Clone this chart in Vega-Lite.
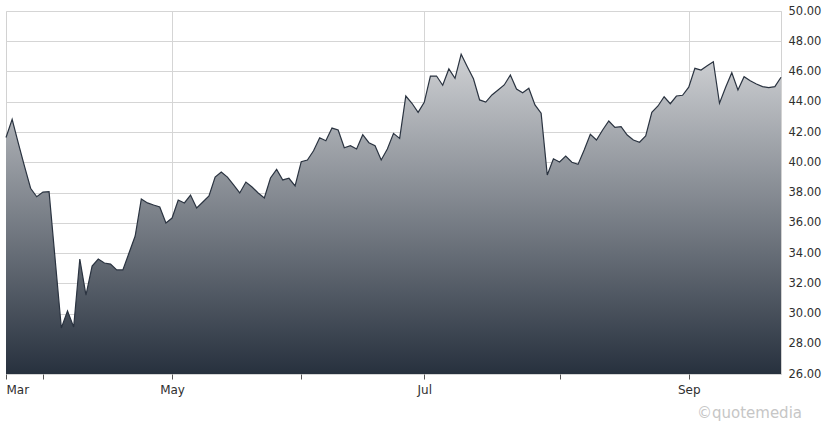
{
  "$schema": "https://vega.github.io/schema/vega-lite/v6.json",
  "description": "Six-month closing price, area chart with price scale on the right",
  "width": 775,
  "height": 363,
  "autosize": "none",
  "padding": {"left": 6, "top": 11, "right": 42, "bottom": 50},
  "background": "#ffffff",
  "config": {
    "font": "DejaVu Sans",
    "view": {"stroke": "#d2d2d2", "strokeWidth": 1}
  },
  "title": {
    "text": "©quotemedia",
    "orient": "bottom",
    "anchor": "end",
    "frame": "group",
    "dx": 21,
    "offset": 11,
    "fontSize": 15,
    "fontWeight": "normal",
    "color": "#c6c6c6"
  },
  "data": {
    "values": [
      {"day": 0, "close": 41.64}, {"day": 1, "close": 42.84}, {"day": 2, "close": 41.27}, {"day": 3, "close": 39.75},
      {"day": 4, "close": 38.28}, {"day": 5, "close": 37.72}, {"day": 6, "close": 38.03}, {"day": 7, "close": 38.05},
      {"day": 8, "close": 33.54}, {"day": 9, "close": 29.04}, {"day": 10, "close": 30.17}, {"day": 11, "close": 29.11},
      {"day": 12, "close": 33.60}, {"day": 13, "close": 31.22}, {"day": 14, "close": 33.14}, {"day": 15, "close": 33.60},
      {"day": 16, "close": 33.34}, {"day": 17, "close": 33.27}, {"day": 18, "close": 32.88}, {"day": 19, "close": 32.88},
      {"day": 20, "close": 34.00}, {"day": 21, "close": 35.12}, {"day": 22, "close": 37.57}, {"day": 23, "close": 37.31},
      {"day": 24, "close": 37.17}, {"day": 25, "close": 37.04}, {"day": 26, "close": 35.98}, {"day": 27, "close": 36.31},
      {"day": 28, "close": 37.50}, {"day": 29, "close": 37.31}, {"day": 30, "close": 37.83}, {"day": 31, "close": 36.98},
      {"day": 32, "close": 37.37}, {"day": 33, "close": 37.77}, {"day": 34, "close": 39.02}, {"day": 35, "close": 39.36},
      {"day": 36, "close": 39.02}, {"day": 37, "close": 38.50}, {"day": 38, "close": 37.97}, {"day": 39, "close": 38.69},
      {"day": 40, "close": 38.36}, {"day": 41, "close": 37.97}, {"day": 42, "close": 37.64}, {"day": 43, "close": 38.96},
      {"day": 44, "close": 39.53}, {"day": 45, "close": 38.83}, {"day": 46, "close": 38.94}, {"day": 47, "close": 38.43},
      {"day": 48, "close": 40.04}, {"day": 49, "close": 40.15}, {"day": 50, "close": 40.76}, {"day": 51, "close": 41.62},
      {"day": 52, "close": 41.42}, {"day": 53, "close": 42.26}, {"day": 54, "close": 42.13}, {"day": 55, "close": 40.96},
      {"day": 56, "close": 41.09}, {"day": 57, "close": 40.88}, {"day": 58, "close": 41.82}, {"day": 59, "close": 41.29},
      {"day": 60, "close": 41.09}, {"day": 61, "close": 40.15}, {"day": 62, "close": 40.88}, {"day": 63, "close": 41.91},
      {"day": 64, "close": 41.58}, {"day": 65, "close": 44.38}, {"day": 66, "close": 43.90}, {"day": 67, "close": 43.30},
      {"day": 68, "close": 43.96}, {"day": 69, "close": 45.70}, {"day": 70, "close": 45.70}, {"day": 71, "close": 45.09},
      {"day": 72, "close": 46.17}, {"day": 73, "close": 45.55}, {"day": 74, "close": 47.14}, {"day": 75, "close": 46.32},
      {"day": 76, "close": 45.52}, {"day": 77, "close": 44.12}, {"day": 78, "close": 43.98}, {"day": 79, "close": 44.45},
      {"day": 80, "close": 44.78}, {"day": 81, "close": 45.11}, {"day": 82, "close": 45.77}, {"day": 83, "close": 44.84},
      {"day": 84, "close": 44.60}, {"day": 85, "close": 44.89}, {"day": 86, "close": 43.79}, {"day": 87, "close": 43.24},
      {"day": 88, "close": 39.16}, {"day": 89, "close": 40.23}, {"day": 90, "close": 40.02}, {"day": 91, "close": 40.41},
      {"day": 92, "close": 40.00}, {"day": 93, "close": 39.86}, {"day": 94, "close": 40.81}, {"day": 95, "close": 41.85},
      {"day": 96, "close": 41.47}, {"day": 97, "close": 42.13}, {"day": 98, "close": 42.73}, {"day": 99, "close": 42.31},
      {"day": 100, "close": 42.35}, {"day": 101, "close": 41.80}, {"day": 102, "close": 41.47}, {"day": 103, "close": 41.32},
      {"day": 104, "close": 41.74}, {"day": 105, "close": 43.30}, {"day": 106, "close": 43.72}, {"day": 107, "close": 44.33},
      {"day": 108, "close": 43.87}, {"day": 109, "close": 44.38}, {"day": 110, "close": 44.43}, {"day": 111, "close": 44.96},
      {"day": 112, "close": 46.21}, {"day": 113, "close": 46.10}, {"day": 114, "close": 46.38}, {"day": 115, "close": 46.65},
      {"day": 116, "close": 43.90}, {"day": 117, "close": 44.96}, {"day": 118, "close": 45.92}, {"day": 119, "close": 44.78},
      {"day": 120, "close": 45.66}, {"day": 121, "close": 45.39}, {"day": 122, "close": 45.17}, {"day": 123, "close": 45.00},
      {"day": 124, "close": 44.93}, {"day": 125, "close": 45.00}, {"day": 126, "close": 45.62}
    ]
  },
  "mark": {
    "type": "area",
    "opacity": 1,
    "color": {
      "gradient": "linear",
      "x1": 0, "y1": 0, "x2": 0, "y2": 1,
      "stops": [
        {"offset": 0, "color": "#cfd1d4"},
        {"offset": 1, "color": "#27313e"}
      ]
    },
    "line": {"color": "#2a3340", "strokeWidth": 1.2}
  },
  "encoding": {
    "x": {
      "field": "day",
      "type": "quantitative",
      "scale": {"domain": [0, 126], "nice": false, "zero": false},
      "axis": {
        "title": null,
        "values": [0, 6, 27, 48, 68, 90, 111],
        "labelExpr": "datum.value == 0 ? 'Mar' : datum.value == 27 ? 'May' : datum.value == 68 ? 'Jul' : datum.value == 111 ? 'Sep' : ''",
        "labelFlush": true,
        "labelFontSize": 12,
        "labelColor": "#2f2f2f",
        "labelPadding": 5,
        "tickSize": 5,
        "tickColor": "#555555",
        "domain": false,
        "grid": true,
        "gridColor": "#d5d5d5",
        "gridOpacity": {"condition": {"test": "datum.value == 27 || datum.value == 68 || datum.value == 111", "value": 1}, "value": 0}
      }
    },
    "y": {
      "field": "close",
      "type": "quantitative",
      "scale": {"domain": [26, 50], "nice": false, "zero": false},
      "axis": {
        "title": null,
        "orient": "right",
        "values": [26, 28, 30, 32, 34, 36, 38, 40, 42, 44, 46, 48, 50],
        "format": ".2f",
        "ticks": false,
        "domain": false,
        "labelPadding": 7,
        "labelFontSize": 11.5,
        "labelColor": "#2f2f2f",
        "gridColor": "#d5d5d5"
      }
    },
    "y2": {"datum": 26}
  }
}
